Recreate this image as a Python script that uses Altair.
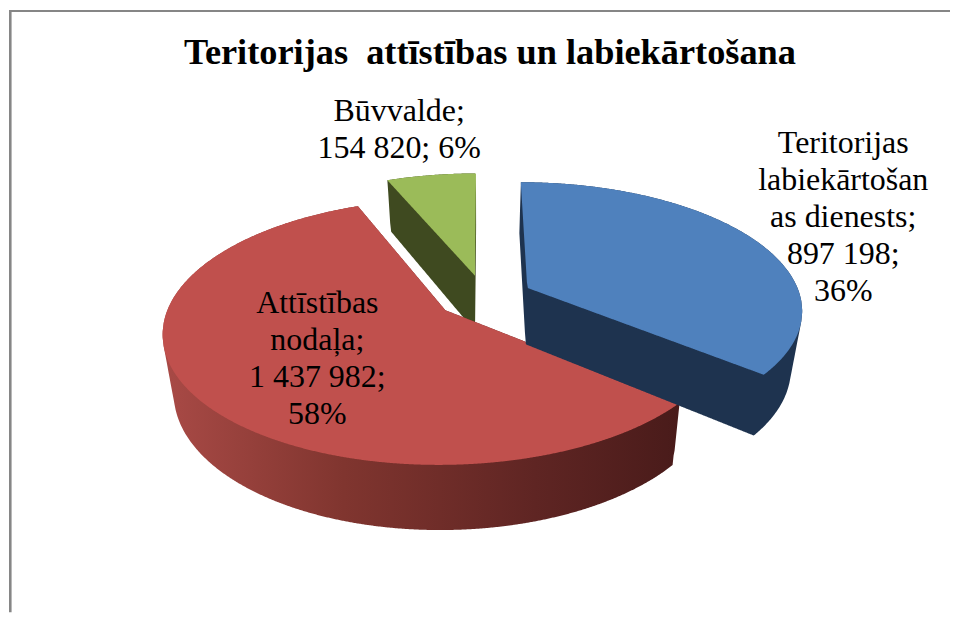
import numpy as np
import pandas as pd
import altair as alt

TITLE = "Teritorijas\u00a0 attīstības un labiekārtošana"
names = ["Teritorijas labiekārtošanas dienests", "Attīstības nodaļa", "Būvvalde"]
values = [897198, 1437982, 154820]
label_text = [
    "Teritorijas\nlabiekārtošan\nas dienests;\n897 198;\n36%",
    "Attīstības\nnodaļa;\n1 437 982;\n58%",
    "Būvvalde;\n154 820; 6%",
]
top_colors = ["#4f81bd", "#c0504d", "#9bbb59"]
wall_colors = ["#1e334f", None, "#3f4a20"]
label_x = [844, 317, 399]
label_y = [141, 301, 109]

# projection of the tilted, exploded pie
XV, XC, YC = 480.0, 484.5, 295.0
RX, RY, K, EXPLODE, DEPTH, SHRINK = 274.0, 125.5, 0.16, 0.175, 57.0, 0.035


def project(gx, gy, z):
    w = 1 + K * gy
    sx = XV + (XC - XV + RX * gx) / w
    sy = YC - RY * gy / w
    sx = XV + (sx - XV) * (1 - SHRINK * z)
    sy = sy + z * DEPTH / w ** 0.7
    return sx, sy


def outline(a0, a1):
    mid = (a0 + a1) / 2
    ox, oy = EXPLODE * np.sin(mid), EXPLODE * np.cos(mid)
    t = np.linspace(a0, a1, 240)
    gx = np.r_[ox, ox + np.sin(t), ox]
    gy = np.r_[oy, oy + np.cos(t), oy]
    return gx, gy


def columns(polys):
    lo = min(p[0].min() for p in polys)
    hi = max(p[0].max() for p in polys)
    xs = np.r_[lo + 0.01, np.arange(np.ceil(lo), hi, 1.0), hi - 0.01]
    top = np.full(xs.shape, np.inf)
    bot = np.full(xs.shape, -np.inf)
    for px, py in polys:
        x1, x2, y1, y2 = px[:-1], px[1:], py[:-1], py[1:]
        for i, x in enumerate(xs):
            m = (np.minimum(x1, x2) <= x) & (np.maximum(x1, x2) >= x) & (x1 != x2)
            if m.any():
                y = y1[m] + (x - x1[m]) * (y2[m] - y1[m]) / (x2[m] - x1[m])
                top[i] = min(top[i], y.min())
                bot[i] = max(bot[i], y.max())
    ok = np.isfinite(top) & np.isfinite(bot)
    return pd.DataFrame({"x": xs[ok], "y": top[ok], "y2": bot[ok]})


X = alt.X("x:Q", scale=alt.Scale(domain=[8, 951], nice=False, zero=False), axis=None)
Y = alt.Y("y:Q", scale=alt.Scale(domain=[611, 8], nice=False, zero=False), axis=None)

shares = np.array(values) / sum(values) * 2 * np.pi
ends = np.cumsum(shares)
starts = ends - shares

layers_by_slice = {}
for i in range(3):
    gx, gy = outline(starts[i], ends[i])
    top_poly = project(gx, gy, 0.0)
    solid = [project(gx, gy, z) for z in np.linspace(0, 1, 14)]
    wall = columns(solid)
    face = columns([top_poly])
    if wall_colors[i] is None:
        wall_mark = alt.Chart(wall).mark_area(
            color=alt.Gradient(
                gradient="linear", x1=0, x2=1, y1=0, y2=0,
                stops=[
                    alt.GradientStop(color="#a94a46", offset=0),
                    alt.GradientStop(color="#80352f", offset=0.35),
                    alt.GradientStop(color="#5f2523", offset=0.72),
                    alt.GradientStop(color="#491b1a", offset=1),
                ],
            )
        )
    else:
        wall_mark = alt.Chart(wall).mark_area(color=wall_colors[i])
    layers_by_slice[i] = [
        wall_mark.encode(x=X, y=Y, y2="y2:Q"),
        alt.Chart(face).mark_area(color=top_colors[i]).encode(x=X, y=Y, y2="y2:Q"),
    ]

frame_left = alt.Chart(pd.DataFrame({"x": [9.3]})).mark_rule(color="#868686", strokeWidth=2.6).encode(x=X)
frame_top = alt.Chart(pd.DataFrame({"y": [8.4]})).mark_rule(color="#868686", strokeWidth=2).encode(y=Y)

labels = alt.Chart(pd.DataFrame({"x": label_x, "y": label_y, "t": label_text})).mark_text(
    font="Liberation Serif", fontSize=32, lineHeight=37, lineBreak="\n",
    align="center", baseline="middle", color="#000000",
).encode(x=X, y=Y, text="t:N")

title = alt.Chart(pd.DataFrame({"x": [490], "y": [50], "t": [TITLE]})).mark_text(
    font="Liberation Serif", fontSize=36.4, fontWeight="bold",
    align="center", baseline="middle", color="#000000",
).encode(x=X, y=Y, text="t:N")

chart = alt.layer(
    frame_left, frame_top,
    *layers_by_slice[2], *layers_by_slice[1], *layers_by_slice[0],
    title, labels,
).properties(width=943, height=603, padding=0, background="#ffffff").configure_view(stroke=None)

chart.save("out.html", embed_options={"renderer": "svg", "actions": False})
